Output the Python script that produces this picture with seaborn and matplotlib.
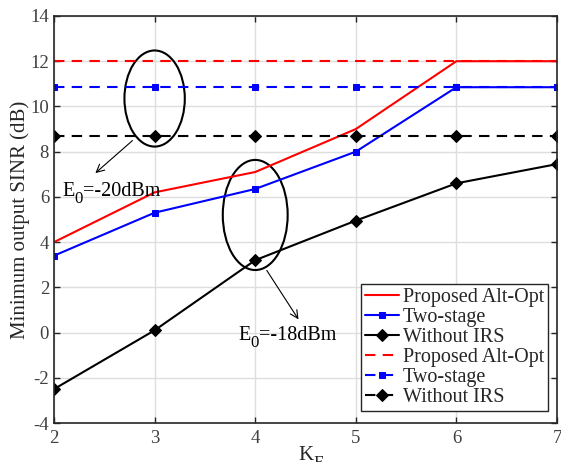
import numpy as np
import pandas as pd
import matplotlib
matplotlib.use("Agg")
import matplotlib.pyplot as plt
from matplotlib.patches import Ellipse
import seaborn as sns

# Number of eavesdroppers K_E
k_e = [2, 3, 4, 5, 6, 7]

# E0 = -18 dBm (solid curves)
alt_opt_18 = [4.0, 6.2, 7.1, 9.0, 12.0, 12.0]
two_stage_18 = [3.4, 5.3, 6.35, 8.0, 10.85, 10.85]
no_irs_18 = [-2.5, 0.1, 3.2, 4.95, 6.6, 7.45]

# E0 = -20 dBm (dashed curves)
alt_opt_20 = [12.0, 12.0, 12.0, 12.0, 12.0, 12.0]
two_stage_20 = [10.85, 10.85, 10.85, 10.85, 10.85, 10.85]
no_irs_20 = [8.7, 8.7, 8.7, 8.7, 8.7, 8.7]

labels = ["Proposed Alt-Opt", "Two-stage", "Without IRS"]

sns.set_theme(style="whitegrid")
plt.rcParams["font.family"] = ["Liberation Serif", "DejaVu Serif"]
plt.rcParams["axes.unicode_minus"] = False

fig = plt.figure(figsize=(5.61, 4.62), dpi=100)
ax = fig.add_axes([0.0963, 0.0844, 0.8966, 0.881])

styles = [
    (alt_opt_18, "#ff0000", "-", None, 0),
    (two_stage_18, "#0000ff", "-", "s", 4.5),
    (no_irs_18, "#000000", "-", "D", 6.5),
    (alt_opt_20, "#ff0000", "--", None, 0),
    (two_stage_20, "#0000ff", "--", "s", 4.5),
    (no_irs_20, "#000000", "--", "D", 6.5),
]
names = labels + labels
for (vals, color, ls, mk, ms), name in zip(styles, names):
    df = pd.DataFrame({"K_E": k_e, "SINR": vals})
    kw = dict(marker=mk, markersize=ms, markeredgecolor=color, markerfacecolor=color) if mk else {}
    line_ls = (0, (5, 3.5)) if ls == "--" else "-"
    sns.lineplot(data=df, x="K_E", y="SINR", ax=ax, color=color, linewidth=1.5,
                 linestyle=line_ls, label=name, **kw)

ax.set_xlim(2, 7)
ax.set_ylim(-4, 14)
ax.set_xticks(k_e)
ax.set_yticks(np.arange(-4, 15, 2))
ax.set_xlabel("")
ax.set_ylabel("Minimum output SINR (dB)", fontsize=15, color="#262626", labelpad=0.5)

ax.grid(True, color="#dedede", linewidth=1)
for s in ax.spines.values():
    s.set_visible(True)
    s.set_color("#262626")
    s.set_linewidth(1.2)
ax.tick_params(axis="both", which="both", direction="in", length=4, width=1,
               colors="#262626", labelsize=13.5, top=True, right=True,
               bottom=True, left=True)
ax.tick_params(axis="x", labelcolor="#404040", pad=5)
ax.tick_params(axis="y", labelcolor="#404040", pad=3.6)

# Group ellipses and annotations
ax.add_patch(Ellipse((3.0, 10.35), 0.6, 4.25, fill=False, edgecolor="black", linewidth=1.5))
ax.add_patch(Ellipse((4.0, 5.2), 0.645, 4.87, fill=False, edgecolor="black", linewidth=1.5))
ax.annotate("", xy=(2.39, 6.97), xytext=(2.80, 8.57),
            arrowprops=dict(arrowstyle="->", color="black", lw=0.8, mutation_scale=14))
ax.annotate("", xy=(4.445, 0.48), xytext=(4.10, 2.85),
            arrowprops=dict(arrowstyle="->", color="black", lw=0.8, mutation_scale=14))


def sub_label(x, y, base, sub, rest="", fs=14.5, color="black", transform=None, ha="left"):
    """Write a letter with a subscript, optionally followed by more text."""
    tr = transform if transform is not None else ax.transData
    t_b = ax.text(x, y, base, fontsize=fs, color=color, va="baseline", ha=ha,
                  transform=tr, clip_on=False)
    t_s = ax.annotate(sub, xy=(1, 0), xycoords=t_b, xytext=(0.3, -4.3),
                      textcoords="offset points", fontsize=fs * 0.83,
                      color=color, va="bottom", ha="left", annotation_clip=False)
    if rest:
        ax.annotate(rest, xy=(1, 0), xycoords=(t_s, t_b), fontsize=fs,
                    color=color, va="bottom", ha="left", annotation_clip=False)


sub_label(2.08, 6.04, "E", "0", "=-20dBm")
sub_label(3.83, -0.33, "E", "0", "=-18dBm")

# x-axis label K_E
sub_label(0.5, -0.0909, "K", "E", fs=15, color="#262626",
          transform=ax.transAxes, ha="center")

leg = ax.legend(loc="lower right", bbox_to_anchor=(0.9774, 0.1097),
                bbox_transform=fig.transFigure, borderaxespad=0,
                fontsize=14.5, frameon=True, fancybox=False,
                framealpha=1, edgecolor="#262626", handlelength=1.7,
                handletextpad=0.2, borderpad=0.2, labelspacing=0.05)
leg.get_frame().set_linewidth(1.0)

fig.savefig("out.png", dpi=100)
